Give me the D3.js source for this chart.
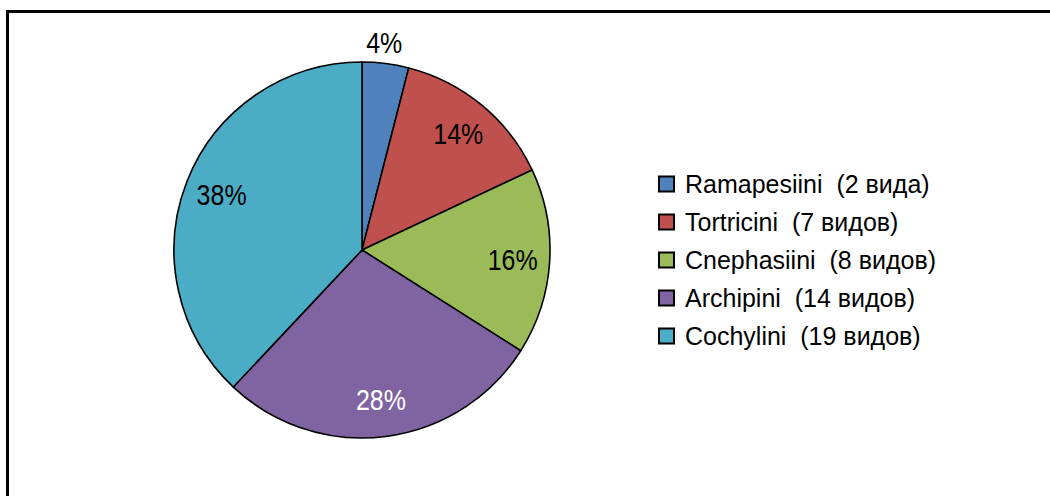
<!DOCTYPE html>
<html>
<head>
<meta charset="utf-8">
<script src="https://cdn.jsdelivr.net/npm/d3@7"></script>
<style>
  html, body { margin: 0; padding: 0; background: #fff; }
  svg { display: block; }
  text { font-family: "Liberation Sans", Arial, sans-serif; }
</style>
</head>
<body>
<svg id="chart" width="1050" height="496"></svg>
<script>
// Tribes of Tortricidae and species counts
const tribes = ["Ramapesiini", "Tortricini", "Cnephasiini", "Archipini", "Cochylini"];
const speciesCounts = [2, 7, 8, 14, 19];
const speciesWords = ["вида", "видов", "видов", "видов", "видов"];
const sliceColors = ["#4F81BD", "#C0504D", "#9BBB59", "#8064A2", "#4BACC6"];
const labelColors = ["#000", "#000", "#000", "#fff", "#000"];

const W = 1050, H = 496;
const svg = d3.select("#chart");

// outer frame (runs past the right and bottom edges)
svg.append("path")
  .attr("d", `M7.5,${H + 5} L7.5,11.5 L${W + 5},11.5`)
  .attr("fill", "none")
  .attr("stroke", "#000")
  .attr("stroke-width", 3);

const cx = 362, cy = 250, R = 188;
const total = d3.sum(speciesCounts);
const data = tribes.map((t, i) => ({
  tribe: t, count: speciesCounts[i], word: speciesWords[i],
  color: sliceColors[i], labelColor: labelColors[i]
}));

const pie = d3.pie().value(d => d.count).sort(null);
const arcs = pie(data);
const arc = d3.arc().innerRadius(0).outerRadius(R);
const labelArc = d3.arc().innerRadius(151).outerRadius(151);
const outerLabelArc = d3.arc().innerRadius(R + 21).outerRadius(R + 21);

const g = svg.append("g").attr("transform", `translate(${cx},${cy})`);

g.selectAll("path.slice")
  .data(arcs)
  .join("path")
  .attr("class", "slice")
  .attr("d", arc)
  .attr("fill", d => d.data.color)
  .attr("stroke", "#000")
  .attr("stroke-width", 1.6)
  .attr("stroke-linejoin", "round");

const pct = d => Math.round(d.data.count / total * 100);

g.selectAll("text.pct")
  .data(arcs)
  .join("text")
  .attr("class", "pct")
  .attr("transform", d => {
    const small = pct(d) < 5;
    const [x, y] = (small ? outerLabelArc : labelArc).centroid(d);
    return `translate(${small ? x - 4 : x},${y + 1}) scale(1,1.15)`;
  })
  .attr("text-anchor", "middle")
  .attr("dominant-baseline", "central")
  .attr("font-size", 25)
  .attr("fill", d => d.data.labelColor)
  .text(d => pct(d) + "%");

// legend
const legend = svg.append("g").attr("transform", "translate(658,184)");
const rowH = 38;
const rows = legend.selectAll("g.row")
  .data(data)
  .join("g")
  .attr("class", "row")
  .attr("transform", (d, i) => `translate(0,${i * rowH})`);

rows.append("rect")
  .attr("x", 1).attr("y", -7.5)
  .attr("width", 15).attr("height", 15)
  .attr("fill", d => d.color)
  .attr("stroke", "#000")
  .attr("stroke-width", 2);

rows.append("text")
  .attr("transform", "translate(27,0) scale(1,1.05)")
  .attr("dominant-baseline", "central")
  .attr("font-size", 25)
  .attr("fill", "#000")
  .attr("xml:space", "preserve")
  .style("white-space", "pre")
  .text(d => `${d.tribe}  (${d.count} ${d.word})`);
</script>
</body>
</html>
